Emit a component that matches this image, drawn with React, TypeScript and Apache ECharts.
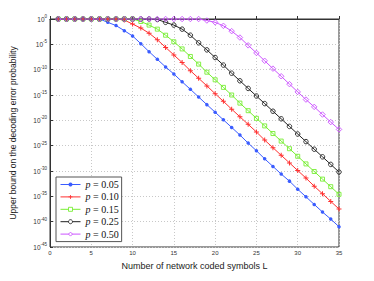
import React, { useEffect, useRef } from "react";
import * as echarts from "echarts";

const L = [1, 2, 3, 4, 5, 6, 7, 8, 9, 10, 11, 12, 13, 14, 15, 16, 17, 18, 19, 20, 21, 22, 23, 24, 25, 26, 27, 28, 29, 30, 31, 32, 33, 34, 35];

const seriesNames = ["p = 0.05", "p = 0.10", "p = 0.15", "p = 0.25", "p = 0.50"];

const p005 = [1, 1, 1, 1, 1, 1, 0.22, 0.05, 5e-3, 4.5e-4, 1.35e-5, 3.5e-7, 1.1e-8, 3.4e-10, 1.4e-11, 4e-13, 1.35e-14, 4e-16, 1.25e-17, 4e-19, 1.25e-20, 4e-22, 1.25e-23, 3.2e-25, 1e-26, 2.5e-28, 8e-30, 2.5e-31, 1e-32, 2.5e-34, 8e-36, 2.5e-37, 8e-39, 3.2e-40, 1e-41];
const p010 = [1, 1, 1, 1, 1, 1, 1, 1, 0.63, 0.1, 0.016, 1.6e-3, 8e-5, 2.5e-6, 8e-8, 2.5e-9, 6.3e-11, 2e-12, 6.3e-14, 1.8e-15, 5.6e-17, 1.6e-18, 5e-20, 1.6e-21, 5e-23, 1.25e-24, 4e-26, 1.25e-27, 4e-29, 1.25e-30, 4e-32, 1e-33, 3.2e-35, 1e-36, 3.2e-38];
const p015 = [1, 1, 1, 1, 1, 1, 1, 1, 1, 1, 0.32, 0.063, 0.01, 6.3e-4, 3.2e-5, 1.25e-6, 4e-8, 1.25e-9, 3.2e-11, 1e-12, 3.2e-14, 1e-15, 2.5e-17, 8e-19, 2.5e-20, 8e-22, 2.5e-23, 8e-25, 2.5e-26, 8e-28, 2.5e-29, 8e-31, 2.5e-32, 8e-34, 2.5e-35];
const p025 = [1, 1, 1, 1, 1, 1, 1, 1, 1, 1, 1, 1, 0.8, 0.22, 0.063, 0.01, 6.3e-4, 2e-5, 8e-7, 2.5e-8, 8e-10, 2e-11, 6.3e-13, 2e-14, 6.3e-16, 2e-17, 6.3e-19, 2e-20, 6.3e-22, 2e-23, 6.3e-25, 2e-26, 6.3e-28, 2e-29, 6.3e-31];
const p050 = [1, 1, 1, 1, 1, 1, 1, 1, 1, 1, 1, 1, 1, 1, 1, 1, 1, 1, 0.5, 0.22, 0.045, 4e-3, 2.2e-4, 6.3e-6, 2e-7, 5.6e-9, 1.6e-10, 5e-12, 1.4e-13, 4e-15, 1.25e-16, 4.5e-18, 1.4e-19, 4.5e-21, 1.6e-22];

// y axis: decades (log10 of the probability), ticks every 5 decades from 10^-45 to 10^0
const yMinExp = -45;
const yMaxExp = 0;

const colors = ["#3a5cff", "#ff3030", "#77ee33", "#222222", "#cc55ff"];
const symbols = [
  "circle",
  "path://M2,0H3V2H5V3H3V5H2V3H0V2H2Z",
  "rect",
  "circle",
  "diamond",
];
const symbolSizes = [3.5, 5, 4, 4.5, 5.5];
const hollow = [false, false, true, true, true];
const allData = [p005, p010, p015, p025, p050];

export default function App() {
  const ref = useRef<HTMLDivElement>(null);
  useEffect(() => {
    const chart = echarts.init(ref.current!, null, { renderer: "svg" });
    const series = allData.map((vals, i) => ({
      type: "line",
      name: seriesNames[i],
      data: L.map((x, j) => [x, Math.log10(vals[j])]),
      symbol: symbols[i],
      symbolSize: symbolSizes[i],
      showAllSymbol: true,
      lineStyle: { color: colors[i], width: 1 },
      itemStyle: hollow[i]
        ? { color: "rgba(255,255,255,0)", borderColor: colors[i], borderWidth: 0.9 }
        : { color: colors[i], borderWidth: 0 },
      z: 3,
    }));
    const option: any = {
      animation: false,
      backgroundColor: "#ffffff",
      textStyle: { fontFamily: "Liberation Sans" },
      grid: { left: 49, right: 35, top: 19, bottom: 34, show: true, borderColor: "#333", borderWidth: 1, backgroundColor: "transparent" },
      xAxis: {
        type: "value",
        min: 0,
        max: 35,
        interval: 5,
        name: "Number of network coded symbols L",
        nameLocation: "middle",
        nameGap: 14,
        nameTextStyle: { fontSize: 9, color: "#222" },
        axisLine: { show: true, lineStyle: { color: "#333", width: 1 } },
        axisTick: { show: true, inside: true, length: 3, lineStyle: { color: "#333" } },
        axisLabel: { fontSize: 6, color: "#333", margin: 3 },
        splitLine: { show: true, lineStyle: { color: "#c8c8c8", type: [1, 2], width: 1 } },
      },
      yAxis: {
        type: "value",
        min: yMinExp,
        max: yMaxExp,
        interval: 5,
        name: "Upper bound on the decoding error probability",
        nameLocation: "middle",
        nameGap: 33,
        nameTextStyle: { fontSize: 8.5, color: "#222" },
        axisLine: { show: true, lineStyle: { color: "#333", width: 1 } },
        axisTick: { show: true, inside: true, length: 3, lineStyle: { color: "#333" } },
        axisLabel: {
          margin: 3,
          color: "#333",
          formatter: (v: number) => `{b|10}{s|${Math.round(v)}}`,
          rich: {
            b: { fontSize: 6.5, color: "#333", fontFamily: "Liberation Sans" },
            s: { fontSize: 4.5, color: "#333", padding: [0, 0, 5, 0], fontFamily: "Liberation Sans" },
          },
        },
        splitLine: { show: true, lineStyle: { color: "#c8c8c8", type: [1, 2], width: 1 } },
      },
      legend: {
        left: 56,
        top: 177,
        orient: "vertical",
        backgroundColor: "#ffffff",
        borderColor: "#555",
        borderWidth: 1,
        borderRadius: 0,
        padding: [2, 3, 2, 4],
        itemWidth: 20,
        itemHeight: 5,
        itemGap: 1.4,
        lineStyle: { width: 1 },
        data: seriesNames.map((n, i) => ({
          name: n,
          itemStyle: hollow[i]
            ? { color: "#ffffff", borderColor: colors[i], borderWidth: 0.9 }
            : { color: colors[i], borderWidth: 0 },
        })),
        formatter: (name: string) => `{i|p} = ${name.split("= ")[1]}`,
        textStyle: {
          fontFamily: "Liberation Serif",
          fontSize: 10,
          color: "#111",
          lineHeight: 11,
          rich: {
            i: { fontFamily: "Liberation Serif", fontStyle: "italic", fontSize: 10, color: "#111", lineHeight: 11 },
          },
        },
      },
      series,
    };
    chart.setOption(option);
    return () => chart.dispose();
  }, []);
  return <div ref={ref} style={{ position: "fixed", left: 0, top: 0, width: 374, height: 281 }} />;
}
